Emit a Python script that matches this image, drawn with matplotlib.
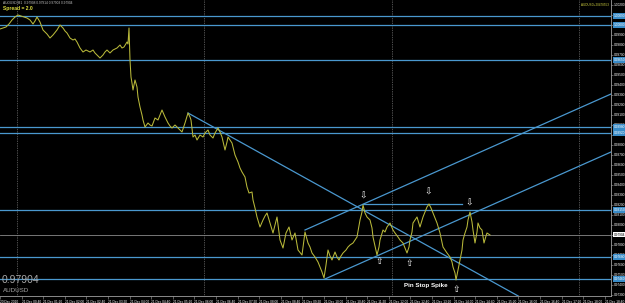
#-------------------------------------------------------------------------------
# AUDUSD M1 con soportes, resistencias y canal alcista, estilo MetaTrader
#-------------------------------------------------------------------------------

import matplotlib.pyplot as plt
import matplotlib.transforms as mtransforms
import numpy as np
import pandas as pd

plt.rcParams['font.family'] = ['Liberation Sans', 'DejaVu Sans']

# precios de cierre (barra, precio)
bars = [0, 3, 6, 9, 12, 15, 18, 21, 24, 27, 30, 33, 35, 37, 40, 43, 45, 47, 50, 53,
        57, 60, 63, 65, 67, 70, 73, 75, 77, 80, 83, 86, 90, 93, 95, 97, 100, 103, 105, 107,
        110, 113, 115, 117, 120, 122, 124, 127, 128, 129,
        130, 131, 132, 133, 135, 137, 138, 140, 142, 143, 145, 148, 150, 152, 155, 158, 160, 162, 165, 168,
        170, 172, 175, 178, 180, 182, 185, 188, 190, 191, 193, 195, 197, 200, 203, 205, 208, 210, 213, 215,
        218, 220, 222, 225, 227, 228, 230, 232, 235, 238, 240, 242, 245, 247, 249, 252, 253, 255, 257, 260,
        263, 265, 267, 270, 273, 275, 277, 280, 283, 286, 289, 292, 295, 298, 302, 305,
        308, 310, 312, 315, 318, 320, 322, 324, 326, 328, 330, 332, 335, 337, 339, 341, 343, 346, 348, 350,
        353, 355, 357, 360, 362, 363, 365, 367, 370, 372, 373, 375, 377, 379, 380, 383, 385, 387, 390, 393,
        395, 398, 400, 403, 405, 407, 409, 410, 412, 413, 415, 417, 420, 423, 425, 427, 429, 431, 433, 435,
        437, 440, 443, 445, 447, 450, 452, 453, 455, 456, 458, 460, 462, 463, 465, 467, 468, 470, 472, 473,
        475, 477, 478, 480, 482, 484, 486, 487, 490]
close = [0.9996, 0.9997, 0.9998, 1.0001, 1.0005, 1.0008, 1.0010, 1.0009, 1.0008, 1.0007,
         1.0005, 1.0001, 1.0004, 1.0008, 1.0003, 0.9995, 0.9993, 0.9991, 0.9987, 0.9990,
         0.9995, 1.0000, 0.9997, 0.9994, 0.9992, 0.9987, 0.9985, 0.9986, 0.9983, 0.9977,
         0.9973, 0.9975, 0.9973, 0.9975, 0.9972, 0.9970, 0.9967, 0.9970, 0.9973, 0.9975,
         0.9972, 0.9975, 0.9976, 0.9977, 0.9980, 0.9977, 0.9978, 0.9983, 0.9981, 0.9997,
         0.9965, 0.9948, 0.9942, 0.9935, 0.9945, 0.9938, 0.9928, 0.9918, 0.9910, 0.9905,
         0.9898, 0.9902, 0.9900, 0.9899, 0.9907, 0.9905, 0.9910, 0.9915, 0.9908, 0.9902,
         0.9899, 0.9897, 0.9900, 0.9897, 0.9895, 0.9893, 0.9902, 0.9912, 0.9908, 0.9905,
         0.9888, 0.9890, 0.9885, 0.9890, 0.9888, 0.9892, 0.9895, 0.9890, 0.9887, 0.9892,
         0.9897, 0.9893, 0.9888, 0.9875, 0.9883, 0.9888, 0.9885, 0.9882, 0.9870, 0.9863,
         0.9857, 0.9853, 0.9848, 0.9838, 0.9832, 0.9833, 0.9825, 0.9817, 0.9808, 0.9798,
         0.9805, 0.9809, 0.9812, 0.9802, 0.9792, 0.9800, 0.9808, 0.9785, 0.9777, 0.9792,
         0.9798, 0.9785, 0.9792, 0.9775, 0.9770, 0.9793,
         0.9782, 0.9778, 0.9772, 0.9768, 0.9763, 0.9758, 0.9753, 0.9747, 0.9760, 0.9775,
         0.9769, 0.9765, 0.9773, 0.9768, 0.9765, 0.9769, 0.9772, 0.9775, 0.9778, 0.9780,
         0.9782, 0.9785, 0.9788, 0.9805, 0.9813, 0.9820, 0.9812, 0.9808, 0.9805, 0.9797,
         0.9788, 0.9779, 0.9770, 0.9778, 0.9785, 0.9795, 0.9793, 0.9798, 0.9802, 0.9795,
         0.9792, 0.9788, 0.9785, 0.9782, 0.9777, 0.9772, 0.9778, 0.9785, 0.9793, 0.9802,
         0.9805, 0.9808, 0.9798, 0.9808, 0.9813, 0.9818, 0.9821, 0.9817, 0.9812, 0.9807,
         0.9802, 0.9792, 0.9778, 0.9775, 0.9772, 0.9768, 0.9763, 0.9758, 0.9752, 0.9745,
         0.9755, 0.9765, 0.9775, 0.9785, 0.9792, 0.9798, 0.9805, 0.9813, 0.9803, 0.9795,
         0.9782, 0.9793, 0.9802, 0.9797, 0.9795, 0.9782, 0.9789, 0.9792, 0.9790]

precio_actual = 0.97904

# niveles horizontales (soportes / resistencias)
niveles = [1.0009, 1.0000, 0.9965, 0.9898, 0.9892, 0.9815, 0.9768, 0.9746]

# lineas de tendencia: (barra inicio, barra fin), (precio inicio, precio fin)
tl_bars = [(188, 520), (305, 611), (325, 611), (363, 462)]
tl_precios = [(0.9912, 0.9728), (0.9795, 0.9931), (0.9746, 0.9873), (0.9821, 0.9821)]

# flechas de maximos y minimos
flecha_baja_bars = [363, 428, 469]
flecha_baja_precios = [0.9829, 0.9833, 0.9822]
flecha_alta_bars = [379, 409, 456]
flecha_alta_precios = [0.9763, 0.9762, 0.9736]

# separadores de periodo
separadores = [17, 204, 392, 579]

# eje de tiempo
tick_bars = np.arange(0, 611, 21.6)
horas = pd.date_range('2010-12-21 00:40', periods=len(tick_bars) - 1, freq='40min')
tick_labels = ['20 Dec 2010'] + [h.strftime('%d %b %H:%M') for h in horas]

azul = '#4a98cf'
amarillo = '#b9b93a'

fig = plt.figure(figsize=(6.25, 3.03), dpi=100, facecolor='black')
ax = fig.add_axes([0, 7 / 303, 611 / 625, 296 / 303])
ax.set_facecolor('black')

for x in separadores:
    ax.axvline(x, color='#9a9a9a', ls=(0, (1, 1.5)), lw=0.5, zorder=1)

for n in niveles:
    ax.axhline(n, color=azul, lw=0.9, zorder=2)
ax.axhline(precio_actual, color='#8a8a8a', lw=0.6, zorder=2)

for (b0, b1), (p0, p1) in zip(tl_bars, tl_precios):
    ax.plot([b0, b1], [p0, p1], color=azul, lw=0.9, zorder=2)

ax.plot(bars, close, color=amarillo, lw=0.75, zorder=3)

for b, p in zip(flecha_baja_bars, flecha_baja_precios):
    ax.text(b, p, '\u21e9', color='white', fontsize=6.5, ha='center', va='center',
            family='DejaVu Sans', zorder=4)
for b, p in zip(flecha_alta_bars, flecha_alta_precios):
    ax.text(b, p, '\u21e7', color='white', fontsize=6.5, ha='center', va='center',
            family='DejaVu Sans', zorder=4)

ax.text(426, 0.9740, 'Pin Stop Spike', color='white', fontsize=4.5, fontweight='bold',
        ha='center', va='center', zorder=4)

# textos de cabecera y esquina
ax.text(3 / 611, 0.99, 'AUDUSD,M1  0.97908 0.97914 0.97903 0.97904', color='#c0c0c0',
        fontsize=2.3, transform=ax.transAxes, va='center', ha='left')
ax.text(3 / 611, 0.972, 'Spread = 2.0', color='#e0e040', fontsize=3.6, fontweight='bold',
        transform=ax.transAxes, va='center', ha='left')
ax.text(609 / 611, 0.982, 'AUDUSD+20478553', color='#d0d040', fontsize=2.2,
        transform=ax.transAxes, va='center', ha='right')
ax.text(2 / 611, 0.054, '0.97904', color='#a8a8a8', fontsize=7.5,
        transform=ax.transAxes, va='center', ha='left')
ax.text(3 / 611, 0.017, 'AUDUSD', color='#a8a8a8', fontsize=4.5,
        transform=ax.transAxes, va='center', ha='left')

ax.set_xlim(0, 611)
ax.set_ylim(0.9729, 1.0025)

ax.set_xticks(tick_bars)
ax.set_xticklabels(tick_labels, fontsize=2.3, color='white', ha='left')
ax.tick_params(axis='x', colors='#a0a0a0', length=2, width=0.4, pad=0.6, labelcolor='white')

ax.yaxis.tick_right()
yticks = np.arange(0.9730, 1.0025, 0.0010)
ax.set_yticks(yticks)
ax.set_yticklabels([f'{v:.5f}' for v in yticks], fontsize=2.3, color='white')
ax.tick_params(axis='y', colors='#a0a0a0', length=1.5, width=0.4, pad=0.6, labelcolor='white')

# etiquetas resaltadas en el eje de precios
trans = mtransforms.blended_transform_factory(ax.transAxes, ax.transData)
for n in niveles:
    ax.text(1.004, n, f'{n:.5f}', transform=trans, fontsize=2.3, color='white',
            va='center', ha='left', clip_on=False, zorder=5,
            bbox=dict(fc='#3a8cc8', ec='none', pad=0.6))
ax.text(1.004, precio_actual, f'{precio_actual:.5f}', transform=trans, fontsize=2.3,
        color='black', va='center', ha='left', clip_on=False, zorder=5,
        bbox=dict(fc='white', ec='none', pad=0.6))

for lado in ['left', 'top']:
    ax.spines[lado].set_visible(False)
for lado in ['right', 'bottom']:
    ax.spines[lado].set_color('#a0a0a0')
    ax.spines[lado].set_linewidth(0.6)

fig.savefig('out.png', dpi=100, facecolor='black')
